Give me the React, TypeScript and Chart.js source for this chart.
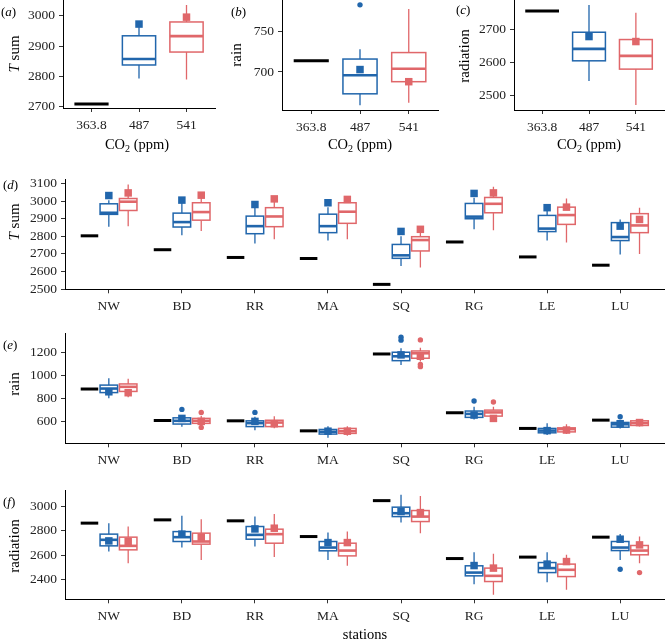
import React, { useEffect, useRef } from "react";
import { Chart, registerables } from "chart.js";

Chart.register(...registerables);

const BLUE = "#2166ac";
const RED = "#e0676a";
const FONT = "'Liberation Serif', 'Times New Roman', 'DejaVu Serif', serif";

// ---------- top row: CO2 levels ----------
const co2Levels = ["363.8", "487", "541"];

const tsumTicks = [2700, 2800, 2900, 3000];
const tsumObs = 2707;
const tsum487 = [2792, 2837, 2857, 2934, 2965]; // [low, q1, median, q3, high]
const tsum541 = [2789, 2880, 2933, 2980, 3036];
const tsumMeans = [2973, 2996];
const tsum487Out: number[] = [];
const tsum541Out: number[] = [];

const rainTicks = [700, 750];
const rainObs = 714;
const rain487 = [659, 673, 696, 716, 728];
const rain541 = [662, 688, 704, 724, 778];
const rainMeans = [703, 688];
const rain487Out = [783];
const rain541Out: number[] = [];

const radTicks = [2500, 2600, 2700];
const radObs = 2755;
const rad487 = [2544, 2605, 2641, 2691, 2773];
const rad541 = [2472, 2580, 2620, 2669, 2750];
const radMeans = [2678, 2663];
const rad487Out: number[] = [];
const rad541Out: number[] = [];

// ---------- stations ----------
const stations = ["NW", "BD", "RR", "MA", "SQ", "RG", "LE", "LU"];

const stTsumTicks = [2500, 2600, 2700, 2800, 2900, 3000, 3100];
const stTsumObs = [2803, 2724, 2680, 2674, 2527, 2768, 2683, 2636];
const stTsum487 = [
  [2855, 2925, 2934, 2985, 3005],
  [2806, 2853, 2881, 2932, 2990],
  [2759, 2815, 2858, 2915, 2970],
  [2777, 2821, 2858, 2926, 2965],
  [2632, 2675, 2692, 2754, 2800],
  [2840, 2900, 2912, 2987, 3020],
  [2776, 2827, 2844, 2919, 2945],
  [2697, 2776, 2796, 2878, 2896],
];
const stTsum487Mean = [3032, 3006, 2981, 2991, 2828, 3044, 2963, 2858];
const stTsum541 = [
  [2858, 2947, 2997, 3015, 3095],
  [2830, 2892, 2938, 2991, 3035],
  [2783, 2855, 2913, 2963, 3028],
  [2783, 2874, 2940, 2991, 3030],
  [2623, 2717, 2779, 2798, 2845],
  [2834, 2934, 2985, 3021, 3082],
  [2765, 2868, 2921, 2966, 3015],
  [2700, 2821, 2862, 2929, 2963],
];
const stTsum541Mean = [3047, 3034, 3013, 3010, 2840, 3047, 2966, 2896];
const stTsum487Out: number[][] = [[], [], [], [], [], [], [], []];
const stTsum541Out: number[][] = [[], [], [], [], [], [], [], []];

const stRainTicks = [600, 800, 1000, 1200];
const stRainObs = [881, 608, 605, 518, 1185, 675, 539, 611];
const stRain487 = [
  [800, 850, 885, 915, 975],
  [553, 577, 605, 631, 655],
  [524, 555, 585, 605, 640],
  [458, 490, 510, 530, 559],
  [1090, 1127, 1165, 1200, 1235],
  [617, 635, 665, 690, 727],
  [481, 501, 520, 539, 583],
  [539, 550, 575, 591, 605],
];
const stRain487Mean = [857, 626, 600, 515, 1177, 655, 520, 580];
const stRain487Out = [[], [704], [678], [], [1305, 1330], [777], [], [640]];
const stRain541 = [
  [810, 860, 900, 925, 970],
  [565, 583, 605, 626, 650],
  [540, 555, 590, 610, 645],
  [475, 496, 515, 539, 559],
  [1120, 1148, 1191, 1211, 1240],
  [617, 646, 678, 698, 727],
  [490, 509, 533, 544, 575],
  [555, 565, 585, 605, 615],
];
const stRain541Mean = [849, 600, 580, 515, 1165, 626, 525, 590];
const stRain541Out = [[], [548, 678], [], [], [1075, 1095, 1307], [768], [], []];

const stRadTicks = [2400, 2600, 2800, 3000];
const stRadObs = [2864, 2891, 2883, 2753, 3050, 2571, 2583, 2748];
const stRad487 = [
  [2629, 2676, 2726, 2773, 2864],
  [2662, 2712, 2748, 2794, 2924],
  [2670, 2731, 2767, 2836, 2918],
  [2560, 2635, 2662, 2712, 2786],
  [2869, 2918, 2946, 2996, 3098],
  [2359, 2428, 2455, 2511, 2624],
  [2376, 2455, 2492, 2538, 2624],
  [2560, 2637, 2662, 2712, 2775],
];
const stRad487Mean = [2717, 2773, 2816, 2703, 2960, 2513, 2525, 2731];
const stRad487Out = [[], [], [], [], [], [], [], [2483]];
const stRad541 = [
  [2533, 2643, 2676, 2748, 2836],
  [2560, 2690, 2712, 2781, 2897],
  [2583, 2698, 2773, 2814, 2940],
  [2511, 2593, 2637, 2698, 2794],
  [2781, 2877, 2918, 2968, 3089],
  [2271, 2381, 2428, 2492, 2610],
  [2312, 2422, 2478, 2525, 2602],
  [2533, 2602, 2637, 2679, 2753],
];
const stRad541Mean = [2712, 2748, 2822, 2703, 2951, 2492, 2546, 2684];
const stRad541Out = [[], [], [], [], [], [], [], [2455]];

// ---------- structures ----------
type Part = { text: string; italic?: boolean; size?: number; dy?: number };
type Elems = {
  baselines: { x: number; v: number; w: number }[];
  boxes: { x: number; s: number[]; w: number; color: string }[];
  meansBlue: { x: number; y: number }[];
  meansRed: { x: number; y: number }[];
  outBlue: { x: number; y: number }[];
  outRed: { x: number; y: number }[];
};

function co2Elems(obs: number, b487: number[], b541: number[], means: number[], o487: number[], o541: number[]): Elems {
  return {
    baselines: [{ x: 1, v: obs, w: 0.72 }],
    boxes: [
      { x: 2, s: b487, w: 0.7, color: BLUE },
      { x: 3, s: b541, w: 0.7, color: RED },
    ],
    meansBlue: [{ x: 2, y: means[0] }],
    meansRed: [{ x: 3, y: means[1] }],
    outBlue: o487.map((v) => ({ x: 2, y: v })),
    outRed: o541.map((v) => ({ x: 3, y: v })),
  };
}

const DODGE = 0.265;
const SW = 0.24;
function stationElems(obs: number[], b487: number[][], b541: number[][], m487: number[], m541: number[], o487: number[][], o541: number[][]): Elems {
  const e: Elems = { baselines: [], boxes: [], meansBlue: [], meansRed: [], outBlue: [], outRed: [] };
  stations.forEach((_, i) => {
    const c = i + 1;
    e.baselines.push({ x: c - DODGE, v: obs[i], w: SW });
    e.boxes.push({ x: c, s: b487[i], w: SW, color: BLUE });
    e.boxes.push({ x: c + DODGE, s: b541[i], w: SW, color: RED });
    e.meansBlue.push({ x: c, y: m487[i] });
    e.meansRed.push({ x: c + DODGE, y: m541[i] });
    o487[i].forEach((v) => e.outBlue.push({ x: c, y: v }));
    o541[i].forEach((v) => e.outRed.push({ x: c + DODGE, y: v }));
  });
  return e;
}

type Spec = {
  key: string;
  left: number; top: number; width: number; height: number;
  yAxisWidth: number; xAxisHeight: number; padTop: number; padRight: number;
  labels: string[];
  yMin: number; yMax: number; yTicks: number[];
  elems: Elems;
  letter: string; letterX: number; letterY: number;
  yTitle: Part[]; yTitleX: number; yTitleY: number;
  xTitle?: Part[]; xTitleX?: number; xTitleY?: number;
};

const TSUM: Part[] = [{ text: "T", italic: true }, { text: " sum" }];
const RAIN: Part[] = [{ text: "rain" }];
const RAD: Part[] = [{ text: "radiation" }];
const CO2: Part[] = [{ text: "CO" }, { text: "2", size: 10, dy: 4 }, { text: " (ppm)" }];

const specs: Spec[] = [
  {
    key: "a", left: 0, top: 0, width: 222, height: 160, yAxisWidth: 63, xAxisHeight: 52, padTop: 0, padRight: 7,
    labels: co2Levels, yMin: 2694, yMax: 3053, yTicks: tsumTicks,
    elems: co2Elems(tsumObs, tsum487, tsum541, tsumMeans, tsum487Out, tsum541Out),
    letter: "a", letterX: 1, letterY: 13, yTitle: TSUM, yTitleX: 15, yTitleY: 54,
    xTitle: CO2, xTitleX: 137, xTitleY: 145,
  },
  {
    key: "b", left: 222, top: 0, width: 222, height: 160, yAxisWidth: 60, xAxisHeight: 50, padTop: 0, padRight: 6,
    labels: co2Levels, yMin: 653, yMax: 789, yTicks: rainTicks,
    elems: co2Elems(rainObs, rain487, rain541, rainMeans, rain487Out, rain541Out),
    letter: "b", letterX: 9, letterY: 13, yTitle: RAIN, yTitleX: 15, yTitleY: 55,
    xTitle: CO2, xTitleX: 138, xTitleY: 145,
  },
  {
    key: "c", left: 444, top: 0, width: 222, height: 160, yAxisWidth: 70, xAxisHeight: 50, padTop: 0, padRight: 2,
    labels: co2Levels, yMin: 2457, yMax: 2788, yTicks: radTicks,
    elems: co2Elems(radObs, rad487, rad541, radMeans, rad487Out, rad541Out),
    letter: "c", letterX: 12, letterY: 11, yTitle: RAD, yTitleX: 21, yTitleY: 56,
    xTitle: CO2, xTitleX: 145, xTitleY: 145,
  },
  {
    key: "d", left: 0, top: 160, width: 666, height: 160, yAxisWidth: 65, xAxisHeight: 30.7, padTop: 19, padRight: 2,
    labels: stations, yMin: 2499, yMax: 3126, yTicks: stTsumTicks,
    elems: stationElems(stTsumObs, stTsum487, stTsum541, stTsum487Mean, stTsum541Mean, stTsum487Out, stTsum541Out),
    letter: "d", letterX: 3, letterY: 26, yTitle: TSUM, yTitleX: 15, yTitleY: 62,
  },
  {
    key: "e", left: 0, top: 320, width: 666, height: 155, yAxisWidth: 65, xAxisHeight: 31.7, padTop: 13, padRight: 2,
    labels: stations, yMin: 410, yMax: 1367, yTicks: stRainTicks,
    elems: stationElems(stRainObs, stRain487, stRain541, stRain487Mean, stRain541Mean, stRain487Out, stRain541Out),
    letter: "e", letterX: 3, letterY: 26, yTitle: RAIN, yTitleX: 15, yTitleY: 64,
  },
  {
    key: "f", left: 0, top: 475, width: 666, height: 166, yAxisWidth: 65, xAxisHeight: 41.7, padTop: 15, padRight: 2,
    labels: stations, yMin: 2234, yMax: 3138, yTicks: stRadTicks,
    elems: stationElems(stRadObs, stRad487, stRad541, stRad487Mean, stRad541Mean, stRad487Out, stRad541Out),
    letter: "f", letterX: 3, letterY: 28, yTitle: RAD, yTitleX: 15, yTitleY: 71,
    xTitle: [{ text: "stations" }], xTitleX: 365, xTitleY: 160.5,
  },
];

function drawRich(ctx: CanvasRenderingContext2D, parts: Part[], x: number, y: number, base: number, align: "left" | "center") {
  const font = (p: Part) => `${p.italic ? "italic " : ""}${p.size ?? base}px ${FONT}`;
  let total = 0;
  parts.forEach((p) => { ctx.font = font(p); total += ctx.measureText(p.text).width; });
  let cx = align === "center" ? x - total / 2 : x;
  ctx.textAlign = "left";
  ctx.textBaseline = "middle";
  parts.forEach((p) => {
    ctx.font = font(p);
    ctx.fillText(p.text, cx, y + (p.dy ?? 0));
    cx += ctx.measureText(p.text).width;
  });
}

function makePlugin(spec: Spec) {
  return {
    id: "deco" + spec.key,
    beforeDatasetsDraw(chart: any) {
      const { ctx } = chart;
      const xs = chart.scales.x;
      const ys = chart.scales.y;
      ctx.save();
      ctx.lineCap = "butt";
      spec.elems.baselines.forEach((b) => {
        const py = ys.getPixelForValue(b.v);
        ctx.strokeStyle = "#000";
        ctx.lineWidth = 3;
        ctx.beginPath();
        ctx.moveTo(xs.getPixelForValue(b.x - b.w / 2), py);
        ctx.lineTo(xs.getPixelForValue(b.x + b.w / 2), py);
        ctx.stroke();
      });
      spec.elems.boxes.forEach((bx) => {
        const [lo, q1, med, q3, hi] = bx.s;
        const cx = xs.getPixelForValue(bx.x);
        const x0 = xs.getPixelForValue(bx.x - bx.w / 2);
        const x1 = xs.getPixelForValue(bx.x + bx.w / 2);
        const pLo = ys.getPixelForValue(lo);
        const pQ1 = ys.getPixelForValue(q1);
        const pMed = ys.getPixelForValue(med);
        const pQ3 = ys.getPixelForValue(q3);
        const pHi = ys.getPixelForValue(hi);
        ctx.strokeStyle = bx.color;
        ctx.lineWidth = 1.3;
        ctx.beginPath();
        ctx.moveTo(cx, pQ1); ctx.lineTo(cx, pLo);
        ctx.moveTo(cx, pQ3); ctx.lineTo(cx, pHi);
        ctx.stroke();
        ctx.fillStyle = "#fff";
        ctx.fillRect(x0, pQ3, x1 - x0, pQ1 - pQ3);
        ctx.lineWidth = 1.5;
        ctx.strokeRect(x0, pQ3, x1 - x0, pQ1 - pQ3);
        ctx.lineWidth = 2.6;
        ctx.beginPath();
        ctx.moveTo(x0, pMed); ctx.lineTo(x1, pMed);
        ctx.stroke();
      });
      ctx.restore();
    },
    afterDraw(chart: any) {
      const { ctx } = chart;
      ctx.save();
      ctx.fillStyle = "#000";
      drawRich(ctx, [{ text: "(" }, { text: spec.letter, italic: true }, { text: ")" }], spec.letterX, spec.letterY, 13, "left");
      ctx.save();
      ctx.translate(spec.yTitleX, spec.yTitleY);
      ctx.rotate(-Math.PI / 2);
      drawRich(ctx, spec.yTitle, 0, 0, 15, "center");
      ctx.restore();
      if (spec.xTitle) drawRich(ctx, spec.xTitle, spec.xTitleX!, spec.xTitleY!, 14.5, "center");
      ctx.restore();
    },
  };
}

function buildConfig(spec: Spec): any {
  const n = spec.labels.length;
  const pointDs = (data: { x: number; y: number }[], color: string, style: string, r: number) => ({
    data,
    pointStyle: style,
    pointRadius: r,
    backgroundColor: color,
    borderColor: color,
    borderWidth: 0,
    showLine: false,
    clip: false,
  });
  const axisCommon = {
    grid: { drawOnChartArea: false, drawTicks: true, tickLength: 4, color: "#333", lineWidth: 1 },
    border: { display: true, color: "#000", width: 1 },
  };
  return {
    type: "scatter",
    data: {
      datasets: [
        pointDs(spec.elems.meansBlue, BLUE, "rect", 5.3),
        pointDs(spec.elems.meansRed, RED, "rect", 5.3),
        pointDs(spec.elems.outBlue, BLUE, "circle", 2.7),
        pointDs(spec.elems.outRed, RED, "circle", 2.7),
      ],
    },
    options: {
      animation: false,
      responsive: false,
      events: [],
      layout: { autoPadding: false, padding: { left: 0, top: spec.padTop, right: spec.padRight, bottom: 0 } },
      plugins: { legend: { display: false }, tooltip: { enabled: false } },
      scales: {
        x: {
          type: "linear",
          min: 0.4,
          max: n + 0.6,
          ...axisCommon,
          afterBuildTicks: (s: any) => { s.ticks = spec.labels.map((_, i) => ({ value: i + 1 })); },
          ticks: {
            callback: (v: number) => spec.labels[Math.round(v) - 1] ?? "",
            font: { family: FONT, size: 13.5 },
            color: "#222",
            padding: 5,
            maxRotation: 0,
            autoSkip: false,
          },
          afterFit: (s: any) => {
            s.height = spec.xAxisHeight;
            s.paddingLeft = 0; s.paddingRight = 0; s.paddingTop = 0; s.paddingBottom = 0;
          },
        },
        y: {
          type: "linear",
          min: spec.yMin,
          max: spec.yMax,
          ...axisCommon,
          afterBuildTicks: (s: any) => { s.ticks = spec.yTicks.map((v) => ({ value: v })); },
          ticks: {
            callback: (v: number) => String(v),
            font: { family: FONT, size: 13.5 },
            color: "#222",
            padding: 4,
            autoSkip: false,
          },
          afterFit: (s: any) => {
            s.width = spec.yAxisWidth;
            s.paddingLeft = 0; s.paddingRight = 0; s.paddingTop = 0; s.paddingBottom = 0;
          },
        },
      },
    },
    plugins: [makePlugin(spec)],
  };
}

function Panel({ spec }: { spec: Spec }) {
  const ref = useRef<HTMLCanvasElement | null>(null);
  useEffect(() => {
    if (!ref.current) return;
    const chart = new Chart(ref.current, buildConfig(spec));
    return () => chart.destroy();
  }, [spec]);
  return (
    <canvas
      ref={ref}
      width={spec.width}
      height={spec.height}
      style={{ position: "absolute", left: spec.left, top: spec.top, width: spec.width, height: spec.height }}
    />
  );
}

export default function App() {
  return (
    <div style={{ position: "absolute", left: 0, top: 0, width: 666, height: 641, background: "#fff", overflow: "hidden" }}>
      {specs.map((s) => (
        <Panel key={s.key} spec={s} />
      ))}
    </div>
  );
}
